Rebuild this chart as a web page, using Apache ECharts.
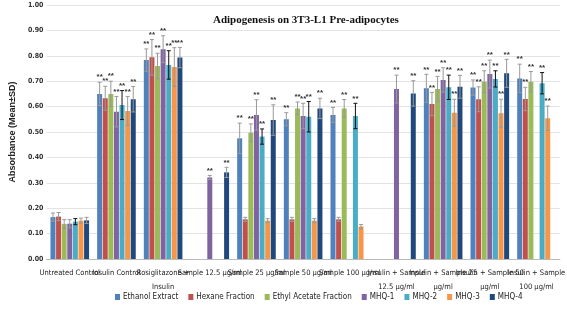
<!DOCTYPE html>
<html>
<head>
<meta charset="utf-8">
<script src="https://cdn.jsdelivr.net/npm/echarts@6/dist/echarts.min.js"></script>
<style>
  html, body { margin: 0; padding: 0; background: #fff; }
  #chart { width: 567px; height: 311px; }
</style>
</head>
<body>
<div id="chart"></div>
<script>
// categories (line breaks as in the picture)
const categories = [
  'Untreated Control', 'Insulin Control', 'Rosiglitazone +\nInsulin',
  'Sample 12.5 μg/ml', 'Sample 25 μg/ml', 'Sample 50 μg/ml', 'Sample 100 μg/ml',
  'Insulin + Sample\n12.5 μg/ml', 'Insulin + Sample 25\nμg/ml', 'Insulin + Sample 50\nμg/ml',
  'Insulin + Sample\n100 μg/ml'
]
const seriesNames = ['Ethanol Extract', 'Hexane Fraction', 'Ethyl Acetate Fraction', 'MHQ-1', 'MHQ-2', 'MHQ-3', 'MHQ-4']
const yTicks = [0, 0.1, 0.2, 0.3, 0.4, 0.5, 0.6, 0.7, 0.8, 0.9, 1.0]

// mean values, '-' = not measured
const ethanolMean = [0.165, 0.650, 0.783, '-', 0.475, 0.550, 0.567, '-', 0.672, 0.675, 0.711]
const hexaneMean = [0.167, 0.633, 0.794, '-', 0.156, 0.156, 0.156, '-', 0.610, 0.629, 0.630]
const ethylMean = [0.138, 0.650, 0.760, '-', 0.497, 0.593, 0.593, '-', 0.669, 0.698, 0.698]
const mhq1Mean = [0.139, 0.580, 0.826, 0.321, 0.567, 0.563, '-', 0.669, 0.705, 0.728, '-']
const mhq2Mean = [0.147, 0.606, 0.764, '-', 0.482, 0.560, 0.563, '-', 0.676, 0.709, 0.692]
const mhq3Mean = [0.151, 0.583, 0.756, '-', 0.151, 0.151, 0.128, '-', 0.576, 0.574, 0.554]
const mhq4Mean = [0.152, 0.629, 0.793, 0.341, 0.547, 0.593, '-', 0.652, 0.678, 0.731, '-']

// standard deviations
const ethanolSd = [0.016, 0.046, 0.044, '-', 0.060, 0.026, 0.030, '-', 0.055, 0.030, 0.056]
const hexaneSd = [0.016, 0.047, 0.070, '-', 0.008, 0.008, 0.008, '-', 0.046, 0.049, 0.046]
const ethylSd = [0.017, 0.050, 0.050, '-', 0.035, 0.025, 0.035, '-', 0.050, 0.043, 0.040]
const mhq1Sd = [0.016, 0.060, 0.053, 0.008, 0.060, 0.050, '-', 0.055, 0.048, 0.055, '-']
const mhq2Sd = [0.012, 0.057, 0.056, '-', 0.030, 0.060, 0.050, '-', 0.048, 0.032, 0.042]
const mhq3Sd = [0.010, 0.057, 0.076, '-', 0.008, 0.008, 0.008, '-', 0.053, 0.055, 0.048]
const mhq4Sd = [0.012, 0.050, 0.040, 0.020, 0.060, 0.040, '-', 0.050, 0.045, 0.055, '-']

// ** marks above all but the untreated control and the low fractions
const starMin = 0.25

const means = [ethanolMean, hexaneMean, ethylMean, mhq1Mean, mhq2Mean, mhq3Mean, mhq4Mean]
const sds = [ethanolSd, hexaneSd, ethylSd, mhq1Sd, mhq2Sd, mhq3Sd, mhq4Sd]
const colors = ['#4F81BD', '#C0504D', '#9BBB59', '#8064A2', '#4BACC6', '#F79646', '#1F497D']
const errColors = ['#999', '#999', '#999', '#999', '#111', '#999', '#999']

const narrow = '"DejaVu Sans Condensed", "Liberation Sans Narrow", sans-serif'
const barWidth = 5
const barGap = 0.12
const step = barWidth * (1 + barGap)

const chart = echarts.init(document.getElementById('chart'))

const series = []
means.forEach((m, i) => {
  series.push({
    name: seriesNames[i],
    type: 'bar',
    barWidth: barWidth,
    barGap: (barGap * 100) + '%',
    itemStyle: { color: colors[i] },
    data: m
  })
})
means.forEach((m, i) => {
  const errData = []
  m.forEach((v, c) => {
    if (v !== '-') errData.push([c, v, sds[i][c]])
  })
  series.push({
    type: 'custom',
    name: seriesNames[i],
    silent: true,
    z: 5,
    data: errData,
    renderItem(params, api) {
      const c = api.value(0)
      const v = api.value(1)
      const sd = api.value(2)
      const x = api.coord([c, v])[0] + (i - 3) * step
      const yTop = api.coord([c, v + sd])[1]
      const yBot = api.coord([c, v - sd])[1]
      const style = { stroke: errColors[i], lineWidth: 1 }
      const children = [
        { type: 'line', shape: { x1: x, y1: yTop, x2: x, y2: yBot }, style },
        { type: 'line', shape: { x1: x - 2, y1: yTop, x2: x + 2, y2: yTop }, style },
        { type: 'line', shape: { x1: x - 2, y1: yBot, x2: x + 2, y2: yBot }, style }
      ]
      if (c > 0 && v > starMin) {
        children.push({
          type: 'text',
          style: {
            x: x, y: yTop - 1, text: '**', align: 'center', verticalAlign: 'bottom',
            fill: '#333', font: 'bold 8px "Liberation Sans"'
          }
        })
      }
      return { type: 'group', children }
    }
  })
})

chart.setOption({
  animation: false,
  title: {
    text: 'Adipogenesis on 3T3-L1 Pre-adipocytes',
    left: 208,
    top: 10,
    textStyle: { fontFamily: 'Liberation Serif', fontSize: 11, fontWeight: 'bold', color: '#111' }
  },
  grid: { left: 26, right: 2, top: 5, bottom: 52 },
  legend: {
    data: seriesNames,
    bottom: 5,
    left: 110,
    itemWidth: 5,
    itemHeight: 6,
    itemGap: 10,
    icon: 'rect',
    textStyle: { fontFamily: narrow, fontSize: 8, color: '#222', padding: [0, 0, 0, -2] }
  },
  xAxis: {
    type: 'category',
    data: categories,
    axisTick: { show: false },
    axisLine: { lineStyle: { color: '#bbb' } },
    axisLabel: {
      interval: 0,
      fontFamily: narrow,
      fontSize: 7.5,
      color: '#222',
      lineHeight: 14,
      margin: 7
    }
  },
  yAxis: {
    type: 'value',
    min: 0,
    max: 1,
    interval: 0.1,
    name: 'Absorbance (Mean±SD)',
    nameLocation: 'middle',
    nameGap: 20,
    nameTextStyle: { fontFamily: 'Liberation Sans', fontSize: 9, fontWeight: 'bold', color: '#222' },
    axisLabel: {
      fontFamily: narrow,
      fontSize: 7,
      fontWeight: 'bold',
      color: '#333',
      margin: 3,
      formatter: v => yTicks.includes(Math.round(v * 10) / 10) ? v.toFixed(2) : ''
    },
    splitLine: { lineStyle: { color: '#e3e3e3' } }
  },
  series: series
})
</script>
</body>
</html>
